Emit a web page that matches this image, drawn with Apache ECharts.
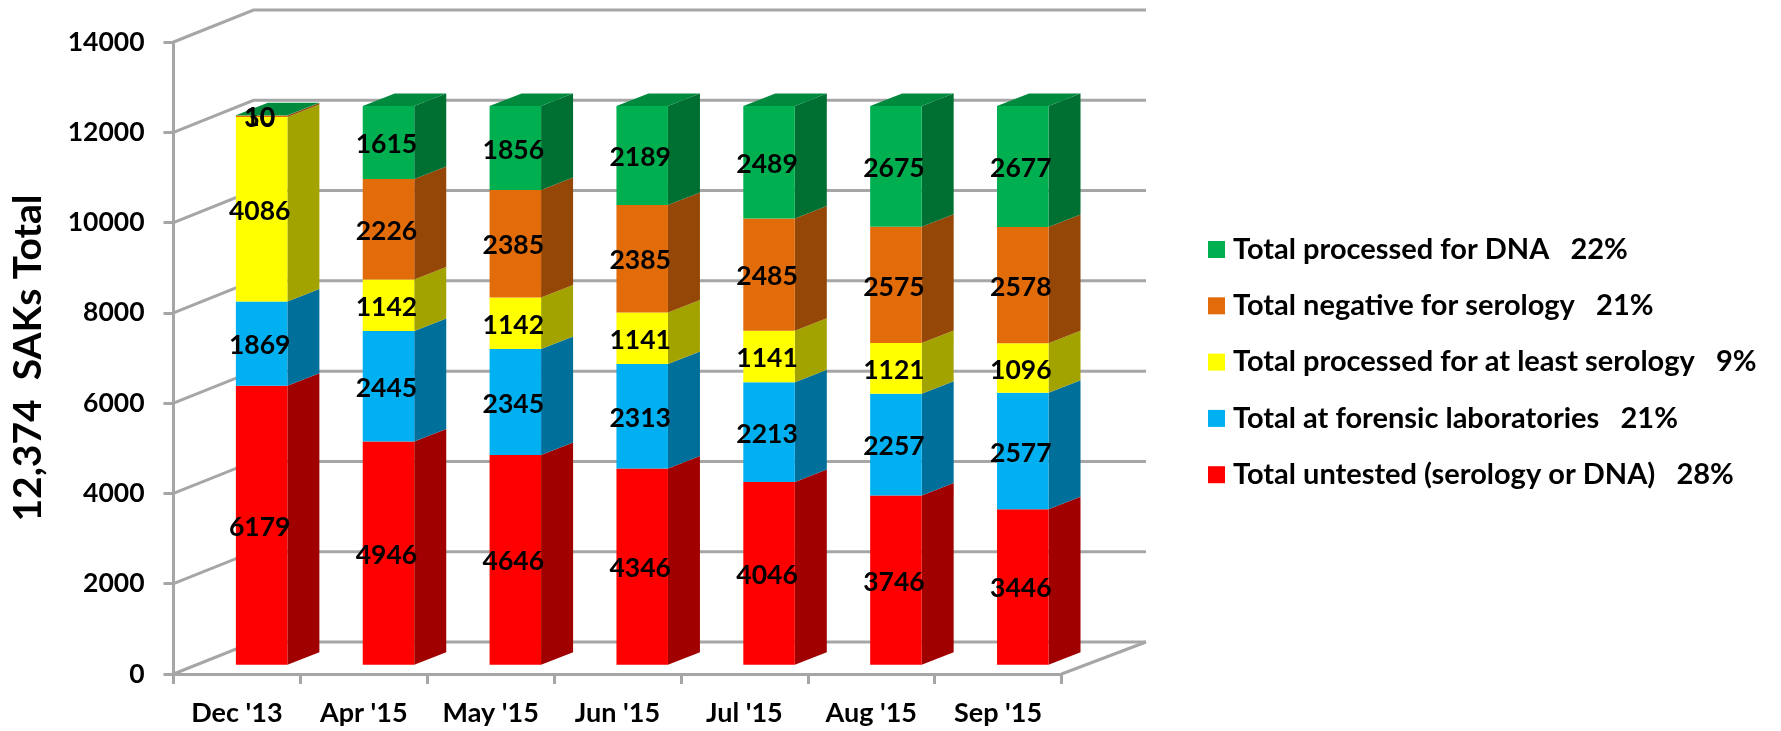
<!DOCTYPE html>
<html>
<head>
<meta charset="utf-8">
<title>SAKs Total</title>
<style>
html, body { margin: 0; padding: 0; background: #fff; }
#chart { width: 1781px; height: 731px; }
</style>
<script src="https://cdn.jsdelivr.net/npm/echarts@6/dist/echarts.min.js"></script>
</head>
<body>
<div id="chart"></div>
<script>
var categories = ["Dec '13", "Apr '15", "May '15", "Jun '15", "Jul '15", "Aug '15", "Sep '15"];
var yTicks = [0, 2000, 4000, 6000, 8000, 10000, 12000, 14000];

var untested = [6179, 4946, 4646, 4346, 4046, 3746, 3446];
var forensic = [1869, 2445, 2345, 2313, 2213, 2257, 2577];
var serology = [4086, 1142, 1142, 1141, 1141, 1121, 1096];
var negative = [30, 2226, 2385, 2385, 2485, 2575, 2578];
var dna = [10, 1615, 1856, 2189, 2489, 2675, 2677];

// bottom of the stack first
var stackSeries = [
    { name: 'Total untested (serology or DNA)   28%', values: untested, color: '#FF0000', side: '#A00000' },
    { name: 'Total at forensic laboratories   21%', values: forensic, color: '#00B0F0', side: '#006F9A' },
    { name: 'Total processed for at least serology   9%', values: serology, color: '#FFFF00', side: '#A3A300' },
    { name: 'Total negative for serology   21%', values: negative, color: '#E36C0A', side: '#954708' },
    { name: 'Total processed for DNA   22%', values: dna, color: '#00B050', side: '#006F32' }
];
var topFaceColor = '#008A3E';

// fake 3d: how far the back wall and the bars sit from the front plane
var wallDxLeft = 80, wallDxRight = 84.5, wallDy = -32;
var barShiftX = 24.7, barShiftY = -9.3, barWidth = 51.5, barDx = 32, barDy = -12.5;
var lineColor = '#A6A6A6';
var lineWidth = 3;
var fontName = 'Lato, sans-serif';

function wallLine(points) {
    return { type: 'polyline', shape: { points: points }, style: { fill: null, stroke: lineColor, lineWidth: lineWidth } };
}

function renderWall(params, api) {
    var p = api.coord([0, api.value(0)]);
    var band = api.size([1, 0])[0];
    var x0 = p[0] - band / 2;
    var x1 = x0 + band * categories.length;
    var y = p[1];
    var children = [wallLine([[x0, y], [x0 + wallDxLeft, y + wallDy], [x1 + wallDxRight, y + wallDy]])];
    // the floor also closes on the right
    if (api.value(0) === 0) {
        children.push(wallLine([[x1, y], [x1 + wallDxRight, y + wallDy]]));
    }
    return { type: 'group', children: children };
}

function makeRenderBar(s, isTop) {
    return function (params, api) {
        var i = api.value(0);
        var base = api.value(1);
        var val = api.value(2);
        var low = api.coord([i, base]);
        var high = api.coord([i, base + val]);
        var x0 = low[0] + barShiftX - barWidth / 2;
        var x1 = x0 + barWidth;
        var y0 = low[1] + barShiftY;
        var y1 = high[1] + barShiftY;
        var children = [
            {
                type: 'polygon',
                shape: { points: [[x1, y0], [x1 + barDx, y0 + barDy], [x1 + barDx, y1 + barDy], [x1, y1]] },
                style: { fill: s.side }
            },
            {
                type: 'rect',
                shape: { x: x0, y: y1, width: barWidth, height: y0 - y1 },
                style: { fill: s.color }
            }
        ];
        if (isTop) {
            children.push({
                type: 'polygon',
                shape: { points: [[x0, y1], [x0 + barDx, y1 + barDy], [x1 + barDx, y1 + barDy], [x1, y1]] },
                style: { fill: topFaceColor }
            });
        }
        children.push({
            type: 'text',
            z2: 100,
            style: {
                x: (x0 + x1) / 2 - 2,
                y: (y0 + y1) / 2 + 2,
                text: String(val),
                fill: '#000',
                font: 'bold 26.5px ' + fontName,
                align: 'center',
                verticalAlign: 'middle'
            }
        });
        return { type: 'group', children: children };
    };
}

var series = [{
    type: 'custom',
    name: 'walls',
    silent: true,
    z: 1,
    data: yTicks.map(function (t) { return [t]; }),
    encode: { y: 0 },
    renderItem: renderWall
}];

var running = categories.map(function () { return 0; });
stackSeries.forEach(function (s, k) {
    var rows = s.values.map(function (v, i) {
        var row = [i, running[i], v];
        running[i] += v;
        return row;
    });
    series.push({
        type: 'custom',
        name: s.name,
        z: 2 + k,
        itemStyle: { color: s.color },
        data: rows,
        encode: { x: 0, y: 1 },
        renderItem: makeRenderBar(s, k === stackSeries.length - 1)
    });
});

var chart = echarts.init(document.getElementById('chart'), null, { renderer: 'canvas' });
chart.setOption({
    animation: false,
    backgroundColor: '#fff',
    grid: { left: 173.5, top: 42, width: 888, height: 632, containLabel: false },
    legend: {
        orient: 'vertical',
        left: 1208,
        top: 235,
        padding: 0,
        itemWidth: 17,
        itemHeight: 17,
        itemGap: 27.3,
        icon: 'rect',
        selectedMode: false,
        data: stackSeries.map(function (s) { return s.name; }).reverse(),
        textStyle: {
            color: '#000',
            fontFamily: fontName,
            fontSize: 29,
            fontWeight: 'bold',
            padding: [0, 0, 0, 3]
        }
    },
    xAxis: {
        type: 'category',
        data: categories,
        axisLine: { lineStyle: { color: lineColor, width: lineWidth } },
        axisTick: { show: true, length: 10, lineStyle: { color: lineColor, width: lineWidth } },
        axisLabel: { color: '#000', fontFamily: fontName, fontSize: 27, fontWeight: 'bold', margin: 26, interval: 0 },
        splitLine: { show: false }
    },
    yAxis: {
        type: 'value',
        min: 0,
        max: 14000,
        interval: 2000,
        name: '12,374  SAKs Total',
        nameLocation: 'middle',
        nameRotate: 90,
        nameGap: 126,
        nameTextStyle: { color: '#000', fontFamily: fontName, fontSize: 39, fontWeight: 'bold' },
        axisLine: { show: true, lineStyle: { color: lineColor, width: lineWidth } },
        axisTick: { show: true, length: 10, lineStyle: { color: lineColor, width: lineWidth } },
        axisLabel: {
            color: '#000',
            fontFamily: fontName,
            fontSize: 26.5,
            fontWeight: 'bold',
            margin: 29,
            formatter: function (v) { return String(v); }
        },
        splitLine: { show: false }
    },
    series: series
});
</script>
</body>
</html>
